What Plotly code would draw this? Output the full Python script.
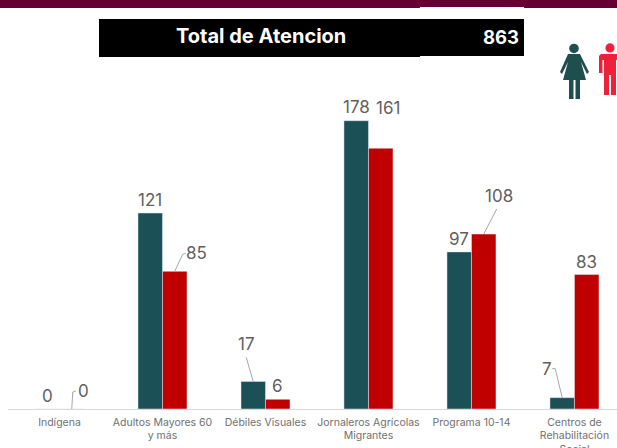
import plotly.graph_objects as go

W, H = 617, 448
ML, MB = 8, 38.5
FONT = "Inter"
TEAL = "#1B5056"
RED = "#C00000"
GREY = "#5F5F5F"
TICK = "#707070"

categories = ["Indígena", "Adultos Mayores 60<br>y más", "Débiles Visuales",
              "Jornaleros Agrícolas<br>Migrantes", "Programa 10-14",
              "Centros de<br>Rehabilitación<br>Social"]
mujeres = [0, 121, 17, 178, 97, 7]
hombres = [0, 85, 6, 161, 108, 83]
title_text = "Total de Atencion"
total_text = "863"

BAR = 24.5
# label offsets from the bar-top centre, in pixels (dx, dy upward)
off_m = [(0, 13), (0, 13), (-7, 37), (0, 14), (0, 13), (-15, 29)]
off_h = [(12, 18), (22, 18), (0, 13), (7, 40), (15, 38), (0, 13)]
# leader polylines, pixel offsets from the same bar-top centre
lead_m = {2: [(-7, 24), (0, 0)], 5: [(-10, 29), (-7, 29), (0, 0)]}
lead_h = {0: [(0, 0), (1, 17), (4, 18)], 1: [(0, 0), (8, 17), (11, 18)],
          4: [(0, 0), (13, 25)]}


def px(x):
    return (x - ML) / (W - ML)


def py(y):
    return (H - MB - y) / (H - MB)


def rect(x0, y0, x1, y1, color):
    return dict(type="rect", xref="paper", yref="paper", x0=px(x0), x1=px(x1),
                y0=py(y0), y1=py(y1), fillcolor=color, line_width=0, layer="above")


def poly(pts, color):
    d = "M" + " L".join(f"{px(x):.5f},{py(y):.5f}" for x, y in pts) + " Z"
    return dict(type="path", xref="paper", yref="paper", path=d, fillcolor=color,
                line_width=0, layer="above")


def circle(cx, cy, r, color):
    return dict(type="circle", xref="paper", yref="paper", x0=px(cx - r), x1=px(cx + r),
                y0=py(cy - r), y1=py(cy + r), fillcolor=color, line_width=0, layer="above")


fig = go.Figure()
fig.add_bar(x=list(range(6)), y=mujeres, name="Mujeres", marker_color=TEAL)
fig.add_bar(x=list(range(6)), y=hombres, name="Hombres", marker_color=RED)

ann = []
shp = []
for series, offs, leads, sign in ((mujeres, off_m, lead_m, -1), (hombres, off_h, lead_h, 1)):
    for i, v in enumerate(series):
        dx, dy = offs[i]
        ann.append(dict(x=i, y=v, xref="x", yref="y", text=str(v), showarrow=False,
                        xanchor="center", yanchor="middle",
                        xshift=sign * BAR / 2 + dx, yshift=dy,
                        font=dict(family=FONT, size=17, color=GREY)))
        if i in leads:
            pts = [(sign * BAR / 2 + a, b) for a, b in leads[i]]
            shp.append(dict(type="path", xref="x", yref="y", xsizemode="pixel", ysizemode="pixel",
                            xanchor=i, yanchor=v,
                            path="M" + " L".join(f"{a},{b}" for a, b in pts),
                            line=dict(color="#A6A6A6", width=1)))

ann.append(dict(xref="paper", yref="paper", x=px(261), y=py(36.5), text=f"<b>{title_text}</b>",
                xanchor="center", yanchor="middle",
                showarrow=False, font=dict(family=FONT, size=20, color="white")))
ann.append(dict(xref="paper", yref="paper", x=px(521), y=py(37), xanchor="right", yanchor="middle",
                text=f"<b>{total_text}</b>",
                showarrow=False, font=dict(family=FONT, size=18.5, color="white")))

shp += [rect(0, 0, W, 8, "#660033"), rect(420, 7, 524, 8, "white"),
        rect(99, 19, 420, 57, "black"), rect(420, 19, 524, 56, "black")]

# woman icon
WC = "#1F4E4F"
shp += [circle(574, 48.5, 4.8, WC),
        poly([(568, 54), (580, 54), (589, 72), (587, 74), (581, 62), (586, 80), (580, 80), (580, 99),
              (575.5, 99), (575.5, 80), (573.5, 80), (573.5, 99), (569, 99), (569, 80), (563, 80),
              (568, 62), (562, 74), (560, 72)], WC)]
# man icon
MC = "#ED2139"
shp += [circle(610, 48, 4.6, MC),
        poly([(601, 54), (619, 54), (621, 56), (621, 73), (617.5, 73), (617.5, 60), (616, 60), (616, 95),
              (611, 95), (611, 75), (609, 75), (609, 95), (604, 95), (604, 60), (602.5, 60),
              (602.5, 73), (599, 73), (599, 56)], MC)]

fig.update_layout(
    width=W, height=H, autosize=False,
    margin=dict(l=ML, r=0, t=0, b=MB),
    paper_bgcolor="white", plot_bgcolor="white",
    showlegend=False, barmode="group", bargap=0.524, bargroupgap=0,
    annotations=ann, shapes=shp,
    xaxis=dict(range=[-0.5, 5.413], tickmode="array", tickvals=list(range(6)), ticktext=categories,
               showline=True, linecolor="#D9D9D9", linewidth=1, ticks="", showgrid=False, zeroline=False,
               tickfont=dict(family=FONT, size=10.5, color=TICK), automargin=False, tickangle=0,
               ticklabelstandoff=3),
    yaxis=dict(range=[0, 252.5], visible=False, showgrid=False, zeroline=False, automargin=False),
)
fig.write_html("out.html", config={"displayModeBar": False},
               post_script="document.body.style.margin='0';document.body.style.overflow='hidden';")
